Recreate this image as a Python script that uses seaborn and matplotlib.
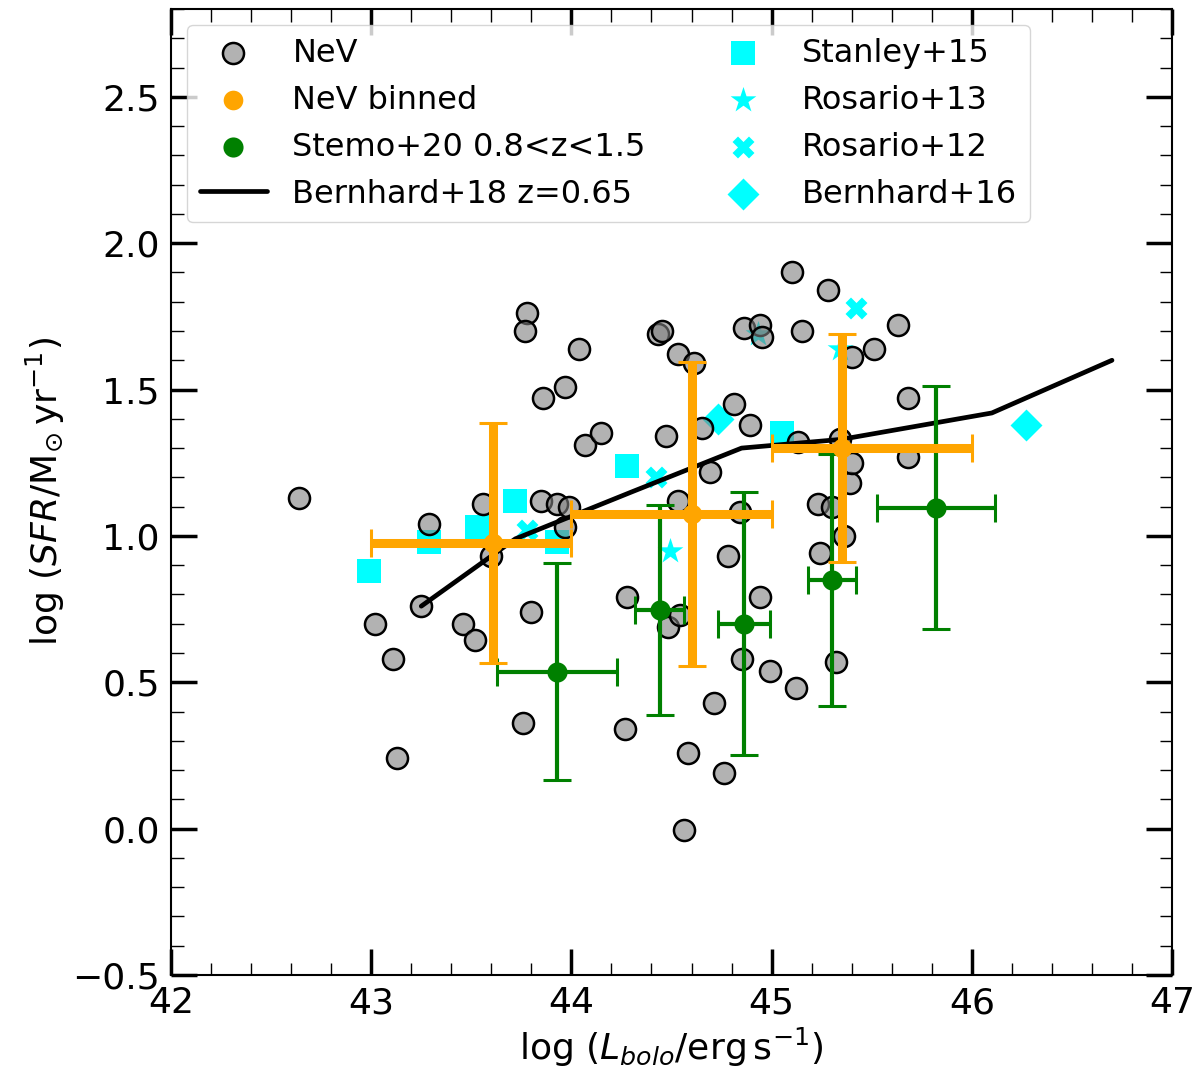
import numpy as np
import pandas as pd
import seaborn as sns
import matplotlib.pyplot as plt
from matplotlib.ticker import MultipleLocator

# NeV sample
nev_lbol = [42.64, 43.02, 43.11, 43.13, 43.25, 43.29, 43.46, 43.52, 43.56, 43.60,
            43.76, 43.80, 43.78, 43.77, 43.86, 43.97, 43.85, 43.93, 43.99, 43.97,
            44.04, 44.07, 44.15, 44.28, 44.27, 44.43, 44.45, 44.47, 44.53, 44.61,
            44.53, 44.48, 44.54, 44.58, 44.56, 44.65, 44.69, 44.71, 44.76, 44.78,
            44.81, 44.84, 44.85, 44.86, 44.89, 44.94, 44.95, 44.94, 44.99, 45.10,
            45.12, 45.13, 45.15, 45.23, 45.24, 45.28, 45.30, 45.32, 45.34, 45.36,
            45.39, 45.40, 45.40, 45.51, 45.63, 45.68, 45.68]
nev_sfr = [1.13, 0.70, 0.58, 0.24, 0.76, 1.04, 0.70, 0.645, 1.11, 0.93,
           0.36, 0.74, 1.76, 1.70, 1.47, 1.51, 1.12, 1.11, 1.10, 1.03,
           1.64, 1.31, 1.35, 0.79, 0.34, 1.69, 1.70, 1.34, 1.62, 1.59,
           1.12, 0.69, 0.73, 0.26, -0.006, 1.37, 1.22, 0.43, 0.19, 0.93,
           1.45, 1.08, 0.58, 1.71, 1.38, 1.72, 1.68, 0.79, 0.54, 1.90,
           0.48, 1.32, 1.70, 1.11, 0.94, 1.84, 1.10, 0.57, 1.33, 1.00,
           1.18, 1.25, 1.61, 1.64, 1.72, 1.47, 1.27]

# NeV binned
bin_lbol = [43.61, 44.60, 45.35]
bin_sfr = [0.976, 1.075, 1.30]
bin_lo = [43.0, 44.0, 45.0]
bin_hi = [44.0, 45.0, 46.0]
bin_sfr_err = [0.41, 0.52, 0.39]

# Stemo+20 0.8<z<1.5
stemo_lbol = [43.93, 44.44, 44.86, 45.30, 45.82]
stemo_sfr = [0.536, 0.747, 0.70, 0.85, 1.096]
stemo_lbol_err = [0.30, 0.12, 0.13, 0.12, 0.295]
stemo_sfr_err = [0.37, 0.36, 0.45, 0.43, 0.415]

# Bernhard+18 z=0.65
bern18_lbol = [43.25, 43.72, 44.3, 44.85, 45.35, 46.1, 46.7]
bern18_sfr = [0.76, 0.99, 1.15, 1.30, 1.33, 1.42, 1.60]

# literature points
stanley_lbol = [42.99, 43.29, 43.53, 43.72, 43.93, 44.28, 45.05]
stanley_sfr = [0.88, 0.98, 1.03, 1.12, 0.98, 1.24, 1.35]
ros13_lbol = [44.49, 44.93, 45.34]
ros13_sfr = [0.95, 1.69, 1.64]
ros12_lbol = [43.78, 44.42, 45.42]
ros12_sfr = [1.02, 1.20, 1.78]
bern16_lbol = [44.73, 46.27]
bern16_sfr = [1.40, 1.38]

LEGEND_ORDER = ['NeV', 'NeV binned', 'Stemo+20 0.8<z<1.5', 'Bernhard+18 z=0.65',
                'Stanley+15', 'Rosario+13', 'Rosario+12', 'Bernhard+16']

sns.set_theme(style='ticks', rc={'axes.edgecolor': 'black', 'text.color': 'black',
                                 'axes.labelcolor': 'black', 'xtick.color': 'black',
                                 'ytick.color': 'black'})
plt.rcParams['font.family'] = ['DejaVu Sans']

fig, ax = plt.subplots(figsize=(12, 10.83), dpi=100)
fig.subplots_adjust(left=0.1425, right=0.9767, top=0.9917, bottom=0.0997)

# literature (cyan)
for xs, ys, mk, s, lab in [(stanley_lbol, stanley_sfr, 's', 300, 'Stanley+15'),
                           (ros13_lbol, ros13_sfr, '*', 380, 'Rosario+13'),
                           (ros12_lbol, ros12_sfr, 'X', 250, 'Rosario+12'),
                           (bern16_lbol, bern16_sfr, 'D', 265, 'Bernhard+16')]:
    sns.scatterplot(x=xs, y=ys, marker=mk, s=s, color='cyan', linewidth=0,
                    label=lab, zorder=1, ax=ax)

# NeV sample
sns.scatterplot(x=nev_lbol, y=nev_sfr, s=230, facecolor=(0.5, 0.5, 0.5, 0.6),
                edgecolor='black', linewidth=1.8, label='NeV', zorder=2, ax=ax)

# Bernhard+18 relation
sns.lineplot(x=bern18_lbol, y=bern18_sfr, color='black', linewidth=3.4,
             estimator=None, errorbar=None, label='Bernhard+18 z=0.65', zorder=3, ax=ax)

# Stemo+20
ax.errorbar(stemo_lbol, stemo_sfr, xerr=stemo_lbol_err, yerr=stemo_sfr_err, fmt='none',
            ecolor='green', elinewidth=3, capsize=10, capthick=2.2, zorder=4)
sns.scatterplot(x=stemo_lbol, y=stemo_sfr, s=210, color='green', linewidth=0,
                label='Stemo+20 0.8<z<1.5', zorder=4, ax=ax)

# NeV binned
bx = np.array(bin_lbol)
xerr = [bx - np.array(bin_lo), np.array(bin_hi) - bx]
ax.errorbar(bin_lbol, bin_sfr, xerr=xerr, yerr=bin_sfr_err, fmt='none',
            ecolor='orange', elinewidth=6.5, capsize=10, capthick=2.2, zorder=5)
sns.scatterplot(x=bin_lbol, y=bin_sfr, s=200, color='orange', linewidth=0,
                label='NeV binned', zorder=5, ax=ax)

ax.set_xlim(42, 47)
ax.set_ylim(-0.5, 2.8)
ax.xaxis.set_major_locator(MultipleLocator(1))
ax.xaxis.set_minor_locator(MultipleLocator(0.2))
ax.yaxis.set_major_locator(MultipleLocator(0.5))
ax.yaxis.set_minor_locator(MultipleLocator(0.1))
ax.tick_params(which='both', direction='in', top=True, right=True)
ax.tick_params(which='major', length=19, width=2.5, labelsize=26, pad=8)
ax.tick_params(which='minor', length=9, width=1)
for sp in ax.spines.values():
    sp.set_linewidth(1.5)

ax.set_xlabel(r'log ($L_{bolo}/\mathrm{erg\,s^{-1}}$)', fontsize=26)
ax.set_ylabel(r'log ($SFR/\mathrm{M_{\odot}\,yr^{-1}}$)', fontsize=26)

handles, labels = ax.get_legend_handles_labels()
hmap = dict(zip(labels, handles))
ax.legend([hmap[l] for l in LEGEND_ORDER], LEGEND_ORDER, ncol=2, loc='upper left',
          fontsize=23, handlelength=2.1, columnspacing=2.0)

fig.savefig('out.png', dpi=100)
